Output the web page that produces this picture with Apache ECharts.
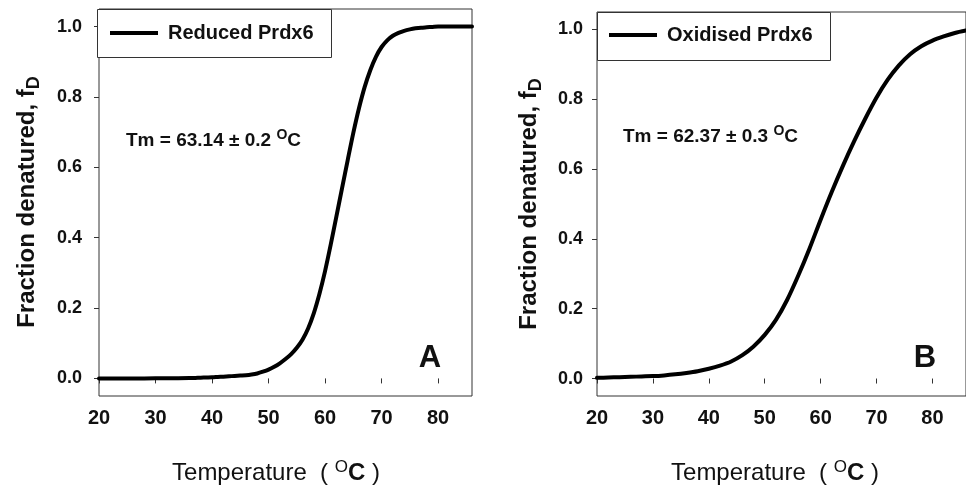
<!DOCTYPE html>
<html>
<head>
<meta charset="utf-8">
<script src="https://cdn.jsdelivr.net/npm/echarts@6/dist/echarts.min.js"></script>
<style>
html,body{margin:0;padding:0;background:#fff;}
#c{width:966px;height:489px;}
</style>
</head>
<body>
<div id="c"></div>
<script>
// Panel A: reduced Prdx6
const tempA = [20,24,28,32,36,37,38,39,40,41,42,43,44,45,46,47,48,49,50,51,52,53,54,55,56,57,58,59,60,61,62,63,64,65,66,67,68,69,70,71,72,73,74,75,76,77,78,79,80,83,86];
const fracA = [0,0,0,0.0005,0.001,0.0015,0.002,0.0025,0.003,0.004,0.005,0.006,0.007,0.008,0.009,0.011,0.014,0.019,0.025,0.033,0.043,0.055,0.069,0.087,0.11,0.142,0.185,0.24,0.305,0.38,0.46,0.54,0.62,0.698,0.768,0.828,0.876,0.914,0.942,0.961,0.974,0.982,0.988,0.992,0.995,0.997,0.998,0.999,1.0,1.0,1.0];
// Panel B: oxidised Prdx6
const tempB = [20,22,24,26,28,30,32,34,36,38,40,42,44,46,48,50,52,54,56,58,60,62,64,66,68,70,72,74,76,78,80,82,84,86];
const fracB = [0.002,0.003,0.004,0.005,0.006,0.007,0.009,0.012,0.016,0.021,0.028,0.037,0.049,0.067,0.092,0.125,0.168,0.225,0.295,0.372,0.455,0.535,0.61,0.68,0.745,0.805,0.856,0.897,0.929,0.952,0.968,0.98,0.99,0.997];
const xTicks = [20,30,40,50,60,70,80];
const yTicks = [0,0.2,0.4,0.6,0.8,1.0];
const seriesNames = ['Reduced Prdx6','Oxidised Prdx6'];
const tmTexts = ['Tm = 63.14 \u00b1 0.2 {sup|O}C','Tm = 62.37 \u00b1 0.3 {sup|O}C'];
const panelLetters = ['A','B'];
const yTitle = 'Fraction denatured, f{sub|D}';
const xTitle = 'Temperature  ( {sup|O}{b|C} )';

const FONT = 'Liberation Sans';
const chart = echarts.init(document.getElementById('c'), null, {renderer:'canvas'});

function xAxisCfg(gi){
  return {
    type:'value', gridIndex:gi, min:20, max:86,
    axisLine:{show:false},
    axisTick:{show:true, customValues:xTicks, length:5, inside:false, lineStyle:{color:'#333', width:1}},
    axisLabel:{customValues:xTicks, margin:12, fontFamily:FONT, fontWeight:'bold', fontSize:20, color:'#111'},
    splitLine:{show:false}
  };
}
function yAxisCfg(gi, margin){
  return {
    type:'value', gridIndex:gi, min:-0.05, max:1.05,
    axisLine:{show:false},
    axisTick:{show:true, customValues:yTicks, length:5, inside:false, lineStyle:{color:'#333', width:1}},
    axisLabel:{customValues:yTicks, margin:margin, fontFamily:FONT, fontWeight:'bold', fontSize:18, color:'#111',
      formatter:function(v){return v.toFixed(1);}},
    splitLine:{show:false}
  };
}
function legendCfg(name, left, top){
  return {
    data:[name], left:left, top:top, padding:0, orient:'horizontal',
    icon:'rect', itemWidth:48, itemHeight:4,
    textStyle:{fontFamily:FONT, fontWeight:'bold', fontSize:20, color:'#111', lineHeight:22, padding:[0,0,0,5]},
    selectedMode:false
  };
}
const supRich = {sup:{fontFamily:FONT, fontWeight:'bold', fontSize:14, padding:[0,0,12,0], fill:'#111'}};

function tmText(txt, x, y){
  return {type:'text', x:x, y:y, z:10, style:{text:txt, font:'bold 19px "'+FONT+'"', fill:'#111', verticalAlign:'middle', align:'left', rich:supRich}};
}
function letter(txt, x, y){
  return {type:'text', x:x, y:y, z:10, style:{text:txt, font:'bold 31px "'+FONT+'"', fill:'#111', align:'center', verticalAlign:'middle'}};
}
function yTitleG(x, y){
  return {type:'text', x:x, y:y, rotation:Math.PI/2, z:10, style:{text:yTitle, font:'bold 24px "'+FONT+'"', fill:'#111', align:'center', verticalAlign:'middle',
    rich:{sub:{fontFamily:FONT, fontWeight:'bold', fontSize:18, padding:[14,0,0,0], fill:'#111'}}}};
}
function xTitleG(x, y){
  return {type:'text', x:x, y:y, z:10, style:{text:xTitle, font:'24px "'+FONT+'"', fill:'#111', align:'center', verticalAlign:'middle',
    rich:{sup:{fontFamily:FONT, fontSize:17, padding:[0,0,12,0], fill:'#111'}, b:{fontFamily:FONT, fontWeight:'bold', fontSize:24, fill:'#111'}}}};
}
function legendBox(x, y, w, h){
  return {type:'rect', z:1, shape:{x:x+0.5, y:y+0.5, width:w, height:h}, style:{fill:'#fff', stroke:'#333', lineWidth:1}};
}

const option = {
  backgroundColor:'#fff',
  animation:false,
  grid:[
    {left:99, top:9, width:373, bottom:93, show:true, borderColor:'#333', borderWidth:1, backgroundColor:'transparent'},
    {left:597, top:12, right:-5, bottom:93, show:true, borderColor:'#333', borderWidth:1, backgroundColor:'transparent'}
  ],
  xAxis:[xAxisCfg(0), xAxisCfg(1)],
  yAxis:[yAxisCfg(0,17), yAxisCfg(1,14)],
  legend:[legendCfg(seriesNames[0],110,22), legendCfg(seriesNames[1],609,24)],
  series:[
    {name:seriesNames[0], type:'line', xAxisIndex:0, yAxisIndex:0, showSymbol:false, symbol:'none', smooth:0.3,
      color:'#000', itemStyle:{color:'#000'}, lineStyle:{color:'#000', width:4, join:'round', cap:'round'}, z:5,
      data:tempA.map(function(t,i){return [t, fracA[i]];})},
    {name:seriesNames[1], type:'line', xAxisIndex:1, yAxisIndex:1, showSymbol:false, symbol:'none', smooth:0.3,
      color:'#000', itemStyle:{color:'#000'}, lineStyle:{color:'#000', width:4, join:'round', cap:'round'}, z:5,
      data:tempB.map(function(t,i){return [t, fracB[i]];})}
  ],
  graphic:[
    legendBox(97, 9, 234, 48),
    legendBox(597, 12, 233, 48),
    tmText(tmTexts[0], 126, 141),
    tmText(tmTexts[1], 623, 137),
    letter(panelLetters[0], 430, 358),
    letter(panelLetters[1], 925, 358),
    yTitleG(27, 202),
    yTitleG(529, 204),
    xTitleG(276, 473),
    xTitleG(775, 473)
  ]
};
chart.setOption(option);
</script>
</body>
</html>
